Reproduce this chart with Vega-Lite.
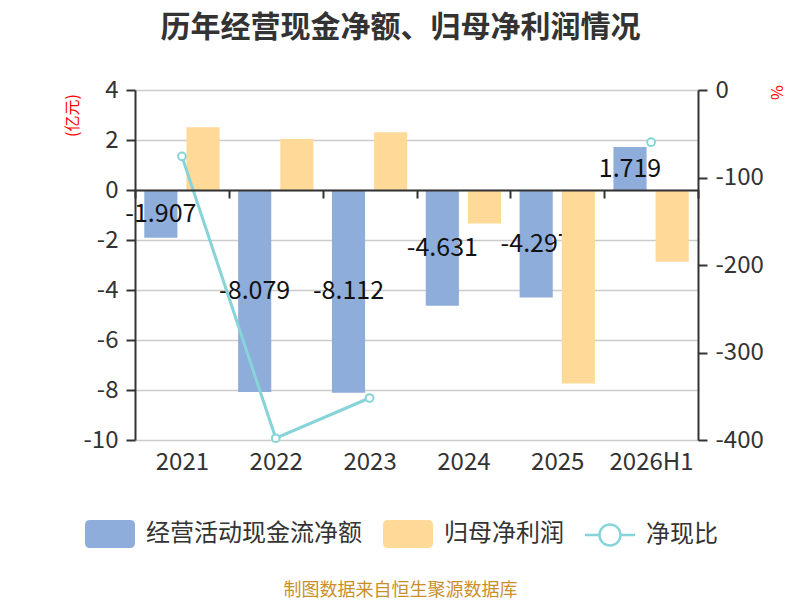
{
  "$schema": "https://vega.github.io/schema/vega-lite/v6.json",
  "width": 563,
  "height": 350,
  "autosize": {"type": "none"},
  "padding": {"left": 135, "top": 90, "right": 102, "bottom": 160},
  "config": {
    "font": "Noto Sans CJK SC",
    "view": {"stroke": null},
    "locale": {
      "number": {"decimal": ".", "thousands": ",", "grouping": [3], "currency": ["", ""], "minus": "-"}
    }
  },
  "title": {
    "text": "历年经营现金净额、归母净利润情况",
    "fontSize": 30,
    "fontWeight": "bold",
    "color": "#333333",
    "anchor": "middle",
    "offset": 35,
    "dx": -16
  },
  "data": {
    "values": [
      {"year": "2021", "series": "经营活动现金流净额", "value": -1.907},
      {"year": "2022", "series": "经营活动现金流净额", "value": -8.079},
      {"year": "2023", "series": "经营活动现金流净额", "value": -8.112},
      {"year": "2024", "series": "经营活动现金流净额", "value": -4.631},
      {"year": "2025", "series": "经营活动现金流净额", "value": -4.297},
      {"year": "2026H1", "series": "经营活动现金流净额", "value": 1.719},
      {"year": "2021", "series": "归母净利润", "value": 2.51},
      {"year": "2022", "series": "归母净利润", "value": 2.04},
      {"year": "2023", "series": "归母净利润", "value": 2.31},
      {"year": "2024", "series": "归母净利润", "value": -1.34},
      {"year": "2025", "series": "归母净利润", "value": -7.74},
      {"year": "2026H1", "series": "归母净利润", "value": -2.87},
      {"year": "2021", "series": "净现比", "value": -75.8},
      {"year": "2022", "series": "净现比", "value": -398},
      {"year": "2023", "series": "净现比", "value": -352},
      {"year": "2024", "series": "净现比", "value": null},
      {"year": "2025", "series": "净现比", "value": null},
      {"year": "2026H1", "series": "净现比", "value": -59.7}
    ]
  },
  "encoding": {
    "x": {
      "field": "year",
      "type": "nominal",
      "sort": ["2021", "2022", "2023", "2024", "2025", "2026H1"],
      "scale": {"paddingInner": 0, "paddingOuter": 0},
      "axis": {
        "orient": "bottom",
        "offset": -250,
        "zindex": 1,
        "grid": false,
        "domainColor": "#333333",
        "domainWidth": 2,
        "ticks": true,
        "tickBand": "extent",
        "tickSize": 8,
        "tickWidth": 2,
        "tickColor": "#333333",
        "labelAngle": 0,
        "labelFontSize": 24,
        "labelColor": "#333333",
        "labelPadding": 252,
        "title": "制图数据来自恒生聚源数据库",
        "titleFontSize": 18,
        "titleFontWeight": "normal",
        "titleColor": "#c8902a",
        "titleX": 265,
        "titleY": 400,
        "titleAlign": "center",
        "titleBaseline": "middle"
      }
    },
    "color": {
      "field": "series",
      "type": "nominal",
      "scale": {
        "domain": ["经营活动现金流净额", "归母净利润", "净现比"],
        "range": ["#8eaddb", "#ffd998", "#86d4d8"]
      },
      "legend": {
        "orient": "none",
        "legendX": -50,
        "legendY": 419,
        "direction": "horizontal",
        "title": null,
        "padding": 0,
        "symbolSize": 2500,
        "symbolStrokeWidth": 0,
        "labelFontSize": 24,
        "labelLimit": 400,
        "labelColor": "#333333",
        "labelOffset": 11,
        "columnPadding": 21,
        "encode": {
          "symbols": {
            "update": {
              "shape": {"signal": "datum.value === '净现比' ? 'M-1,-0.05L-0.44,-0.05L-0.44,0.05L-1,0.05ZM0.44,-0.05L1,-0.05L1,0.05L0.44,0.05ZM0.47,0A0.47,0.47,0,1,1,-0.47,0A0.47,0.47,0,1,1,0.47,0ZM0.37,0A0.37,0.37,0,1,0,-0.37,0A0.37,0.37,0,1,0,0.37,0Z' : 'M-0.8,-0.56L0.8,-0.56Q1,-0.56,1,-0.36L1,0.36Q1,0.56,0.8,0.56L-0.8,0.56Q-1,0.56,-1,0.36L-1,-0.36Q-1,-0.56,-0.8,-0.56Z'"},
              "fill": {"signal": "datum.value === '经营活动现金流净额' ? '#8eaddb' : datum.value === '归母净利润' ? '#ffd998' : '#86d4d8'"},
              "stroke": {"value": "transparent"},
              "strokeWidth": {"value": 0},
              "opacity": {"value": 1},
              "fillOpacity": {"value": 1}
            }
          }
        }
      }
    }
  },
  "layer": [
    {
      "layer": [
        {
          "transform": [{"filter": "datum.series === '经营活动现金流净额'"}],
          "mark": {"type": "bar"},
          "encoding": {
            "xOffset": {
              "field": "series",
              "type": "nominal",
              "sort": ["经营活动现金流净额", "归母净利润"],
              "scale": {"domain": ["经营活动现金流净额", "归母净利润"], "paddingInner": 0.214, "paddingOuter": 0.22}
            },
            "y": {
              "field": "value",
              "type": "quantitative",
              "scale": {"domain": [-10, 4], "nice": false, "zero": false},
              "axis": {
                "orient": "left",
                "values": [-10, -8, -6, -4, -2, 0, 2, 4],
                "grid": true,
                "gridColor": "#cccccc",
                "gridWidth": 1.5,
                "domainColor": "#333333",
                "domainWidth": 2,
                "tickColor": "#333333",
                "tickSize": 9,
                "tickWidth": 2,
                "labelFontSize": 24,
                "labelColor": "#333333",
                "labelPadding": 8,
                "title": "(亿元)",
                "titleColor": "#ff0000",
                "titleFontSize": 16,
                "titleFontWeight": "normal",
                "titleAngle": -90,
                "titleX": -63,
                "titleY": 25,
                "titleAlign": "center",
                "titleBaseline": "middle"
              }
            }
          }
        },
        {
          "transform": [
            {"filter": "datum.series === '经营活动现金流净额'"},
            {"calculate": "datum.value / 2", "as": "mid"}
          ],
          "mark": {"type": "text", "fontSize": 25, "baseline": "middle", "align": "center"},
          "encoding": {
            "xOffset": {"field": "series", "type": "nominal", "sort": ["经营活动现金流净额", "归母净利润"]},
            "y": {"field": "mid", "type": "quantitative"},
            "text": {"field": "value", "type": "quantitative", "format": ".3f"},
            "color": {"value": "#111111"}
          }
        },
        {
          "transform": [{"filter": "datum.series === '归母净利润'"}],
          "mark": {"type": "bar"},
          "encoding": {
            "xOffset": {"field": "series", "type": "nominal", "sort": ["经营活动现金流净额", "归母净利润"]},
            "y": {"field": "value", "type": "quantitative"}
          }
        }
      ]
    },
    {
      "transform": [{"filter": "datum.series === '净现比'"}],
      "layer": [
        {
          "mark": {"type": "line", "strokeWidth": 3, "invalid": "break-paths-filter-domains"},
          "encoding": {
            "y": {
              "field": "value",
              "type": "quantitative",
              "scale": {"domain": [-400, 0], "nice": false},
              "axis": {
                "orient": "right",
                "values": [0, -100, -200, -300, -400],
                "grid": false,
                "domainColor": "#333333",
                "domainWidth": 2,
                "tickColor": "#333333",
                "tickSize": 9,
                "tickWidth": 2,
                "labelFontSize": 24,
                "labelColor": "#333333",
                "labelPadding": 8,
                "title": "%",
                "titleColor": "#ff0000",
                "titleFontSize": 16,
                "titleFontWeight": "normal",
                "titleAngle": 90,
                "titleX": 77,
                "titleY": 2,
                "titleAlign": "center",
                "titleBaseline": "middle"
              }
            }
          }
        },
        {
          "mark": {"type": "point", "shape": "circle", "filled": true, "fill": "#ffffff", "size": 60, "strokeWidth": 2, "opacity": 1},
          "encoding": {
            "y": {"field": "value", "type": "quantitative"},
            "stroke": {"value": "#86d4d8"}
          }
        }
      ]
    }
  ],
  "resolve": {"scale": {"y": "independent"}}
}
